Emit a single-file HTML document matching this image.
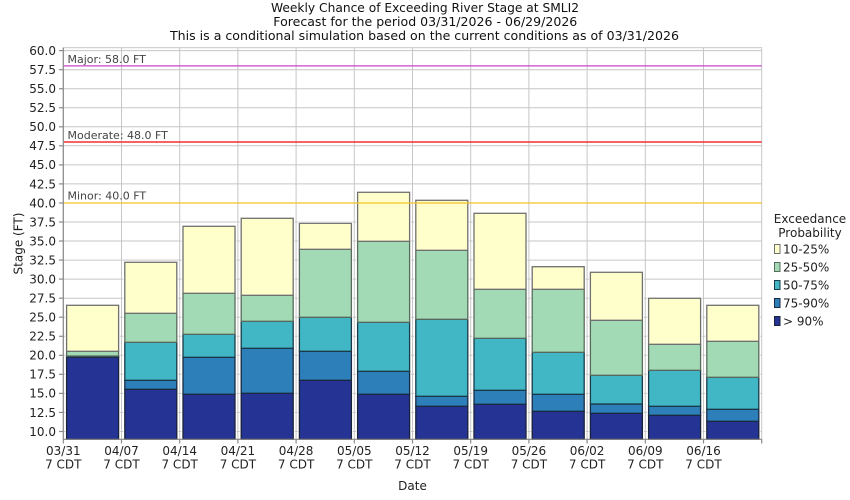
<!DOCTYPE html>
<html><head><meta charset="utf-8"><style>
html,body{margin:0;padding:0;background:#fff;}
svg{display:block;font-family:"DejaVu Sans","Liberation Sans",sans-serif;}
</style></head><body>
<svg width="850" height="500" viewBox="0 0 850 500" xmlns="http://www.w3.org/2000/svg">
<rect width="850" height="500" fill="#fff"/>
<!-- Title -->
<g fill="#111" font-size="12" text-anchor="middle">
<text x="425" y="12" textLength="308" lengthAdjust="spacingAndGlyphs">Weekly Chance of Exceeding River Stage at SMLI2</text>
<text x="425.3" y="26" textLength="304" lengthAdjust="spacingAndGlyphs">Forecast for the period 03/31/2026 - 06/29/2026</text>
<text x="424.5" y="40" textLength="509" lengthAdjust="spacingAndGlyphs">This is a conditional simulation based on the current conditions as of 03/31/2026</text>
</g>
<!-- Grid -->
<g stroke="#c6c6c6" stroke-width="1">
<line x1="63.3" x2="761.7" y1="431.5" y2="431.5"/>
<line x1="63.3" x2="761.7" y1="412.4" y2="412.4"/>
<line x1="63.3" x2="761.7" y1="393.4" y2="393.4"/>
<line x1="63.3" x2="761.7" y1="374.3" y2="374.3"/>
<line x1="63.3" x2="761.7" y1="355.3" y2="355.3"/>
<line x1="63.3" x2="761.7" y1="336.3" y2="336.3"/>
<line x1="63.3" x2="761.7" y1="317.2" y2="317.2"/>
<line x1="63.3" x2="761.7" y1="298.2" y2="298.2"/>
<line x1="63.3" x2="761.7" y1="279.1" y2="279.1"/>
<line x1="63.3" x2="761.7" y1="260.1" y2="260.1"/>
<line x1="63.3" x2="761.7" y1="241.0" y2="241.0"/>
<line x1="63.3" x2="761.7" y1="222.0" y2="222.0"/>
<line x1="63.3" x2="761.7" y1="203.0" y2="203.0"/>
<line x1="63.3" x2="761.7" y1="183.9" y2="183.9"/>
<line x1="63.3" x2="761.7" y1="164.9" y2="164.9"/>
<line x1="63.3" x2="761.7" y1="145.8" y2="145.8"/>
<line x1="63.3" x2="761.7" y1="126.8" y2="126.8"/>
<line x1="63.3" x2="761.7" y1="107.7" y2="107.7"/>
<line x1="63.3" x2="761.7" y1="88.7" y2="88.7"/>
<line x1="63.3" x2="761.7" y1="69.7" y2="69.7"/>
<line x1="63.3" x2="761.7" y1="50.6" y2="50.6"/>
<line y1="47.7" y2="439.3" x1="121.5" x2="121.5"/>
<line y1="47.7" y2="439.3" x1="179.7" x2="179.7"/>
<line y1="47.7" y2="439.3" x1="237.9" x2="237.9"/>
<line y1="47.7" y2="439.3" x1="296.1" x2="296.1"/>
<line y1="47.7" y2="439.3" x1="354.3" x2="354.3"/>
<line y1="47.7" y2="439.3" x1="412.5" x2="412.5"/>
<line y1="47.7" y2="439.3" x1="470.7" x2="470.7"/>
<line y1="47.7" y2="439.3" x1="528.9" x2="528.9"/>
<line y1="47.7" y2="439.3" x1="587.1" x2="587.1"/>
<line y1="47.7" y2="439.3" x1="645.3" x2="645.3"/>
<line y1="47.7" y2="439.3" x1="703.5" x2="703.5"/>
<rect x="63.3" y="47.7" width="698.4" height="391.6" fill="none"/>
</g>
<!-- white halos -->
<g fill="#fff">
<rect x="65.1" y="303.8" width="55" height="136"/>
<rect x="123.3" y="260.8" width="55" height="179"/>
<rect x="181.5" y="224.8" width="55" height="215"/>
<rect x="239.7" y="216.8" width="55" height="223"/>
<rect x="297.9" y="221.8" width="55" height="218"/>
<rect x="356.1" y="190.8" width="55" height="249"/>
<rect x="414.3" y="198.8" width="55" height="241"/>
<rect x="472.5" y="211.8" width="55" height="228"/>
<rect x="530.7" y="265.2" width="55" height="175"/>
<rect x="588.9" y="270.8" width="55" height="169"/>
<rect x="647.1" y="296.8" width="55" height="143"/>
<rect x="705.3" y="303.8" width="55" height="136"/>
</g>
<!-- Bars -->
<g stroke-width="1.3">
<!-- 1 -->
<g transform="translate(66.6,0)">
<rect width="52" y="357.3" height="82" fill="#253494" stroke="#1a2238"/>
<rect width="52" y="356.7" height="0.6" fill="#2c7fb8" stroke="#1a2a40"/>
<rect width="52" y="356.0" height="0.7" fill="#41b6c4" stroke="#1a3a48"/>
<rect width="52" y="351.3" height="4.7" fill="#a1dab4" stroke="#5a6a5e"/>
<rect width="52" y="305.3" height="46" fill="#ffffcc" stroke="#707070"/>
</g>
<!-- 2 -->
<g transform="translate(124.8,0)">
<rect width="52" y="389.3" height="50" fill="#253494" stroke="#1a2238"/>
<rect width="52" y="380.3" height="9" fill="#2c7fb8" stroke="#1a2a40"/>
<rect width="52" y="342.3" height="38" fill="#41b6c4" stroke="#1a3a48"/>
<rect width="52" y="313.3" height="29" fill="#a1dab4" stroke="#5a6a5e"/>
<rect width="52" y="262.3" height="51" fill="#ffffcc" stroke="#707070"/>
</g>
<!-- 3 -->
<g transform="translate(183.0,0)">
<rect width="52" y="394.3" height="45" fill="#253494" stroke="#1a2238"/>
<rect width="52" y="357.3" height="37" fill="#2c7fb8" stroke="#1a2a40"/>
<rect width="52" y="334.3" height="23" fill="#41b6c4" stroke="#1a3a48"/>
<rect width="52" y="293.3" height="41" fill="#a1dab4" stroke="#5a6a5e"/>
<rect width="52" y="226.3" height="67" fill="#ffffcc" stroke="#707070"/>
</g>
<!-- 4 -->
<g transform="translate(241.2,0)">
<rect width="52" y="393.3" height="46" fill="#253494" stroke="#1a2238"/>
<rect width="52" y="348.3" height="45" fill="#2c7fb8" stroke="#1a2a40"/>
<rect width="52" y="321.3" height="27" fill="#41b6c4" stroke="#1a3a48"/>
<rect width="52" y="295.3" height="26" fill="#a1dab4" stroke="#5a6a5e"/>
<rect width="52" y="218.3" height="77" fill="#ffffcc" stroke="#707070"/>
</g>
<!-- 5 -->
<g transform="translate(299.4,0)">
<rect width="52" y="380.3" height="59" fill="#253494" stroke="#1a2238"/>
<rect width="52" y="351.3" height="29" fill="#2c7fb8" stroke="#1a2a40"/>
<rect width="52" y="317.3" height="34" fill="#41b6c4" stroke="#1a3a48"/>
<rect width="52" y="249.3" height="68" fill="#a1dab4" stroke="#5a6a5e"/>
<rect width="52" y="223.3" height="26" fill="#ffffcc" stroke="#707070"/>
</g>
<!-- 6 -->
<g transform="translate(357.6,0)">
<rect width="52" y="394.3" height="45" fill="#253494" stroke="#1a2238"/>
<rect width="52" y="371.3" height="23" fill="#2c7fb8" stroke="#1a2a40"/>
<rect width="52" y="322.3" height="49" fill="#41b6c4" stroke="#1a3a48"/>
<rect width="52" y="241.3" height="81" fill="#a1dab4" stroke="#5a6a5e"/>
<rect width="52" y="192.3" height="49" fill="#ffffcc" stroke="#707070"/>
</g>
<!-- 7 -->
<g transform="translate(415.8,0)">
<rect width="52" y="406.3" height="33" fill="#253494" stroke="#1a2238"/>
<rect width="52" y="396.3" height="10" fill="#2c7fb8" stroke="#1a2a40"/>
<rect width="52" y="319.3" height="77" fill="#41b6c4" stroke="#1a3a48"/>
<rect width="52" y="250.3" height="69" fill="#a1dab4" stroke="#5a6a5e"/>
<rect width="52" y="200.3" height="50" fill="#ffffcc" stroke="#707070"/>
</g>
<!-- 8 -->
<g transform="translate(474.0,0)">
<rect width="52" y="404.3" height="35" fill="#253494" stroke="#1a2238"/>
<rect width="52" y="390.3" height="14" fill="#2c7fb8" stroke="#1a2a40"/>
<rect width="52" y="338.3" height="52" fill="#41b6c4" stroke="#1a3a48"/>
<rect width="52" y="289.3" height="49" fill="#a1dab4" stroke="#5a6a5e"/>
<rect width="52" y="213.3" height="76" fill="#ffffcc" stroke="#707070"/>
</g>
<!-- 9 -->
<g transform="translate(532.2,0)">
<rect width="52" y="411.3" height="28" fill="#253494" stroke="#1a2238"/>
<rect width="52" y="394.3" height="17" fill="#2c7fb8" stroke="#1a2a40"/>
<rect width="52" y="352.3" height="42" fill="#41b6c4" stroke="#1a3a48"/>
<rect width="52" y="289.3" height="63" fill="#a1dab4" stroke="#5a6a5e"/>
<rect width="52" y="266.7" height="22.6" fill="#ffffcc" stroke="#707070"/>
</g>
<!-- 10 -->
<g transform="translate(590.4,0)">
<rect width="52" y="413.3" height="26" fill="#253494" stroke="#1a2238"/>
<rect width="52" y="404.0" height="9.3" fill="#2c7fb8" stroke="#1a2a40"/>
<rect width="52" y="375.3" height="28.7" fill="#41b6c4" stroke="#1a3a48"/>
<rect width="52" y="320.3" height="55" fill="#a1dab4" stroke="#5a6a5e"/>
<rect width="52" y="272.3" height="48" fill="#ffffcc" stroke="#707070"/>
</g>
<!-- 11 -->
<g transform="translate(648.6,0)">
<rect width="52" y="415.3" height="24" fill="#253494" stroke="#1a2238"/>
<rect width="52" y="406.3" height="9" fill="#2c7fb8" stroke="#1a2a40"/>
<rect width="52" y="370.3" height="36" fill="#41b6c4" stroke="#1a3a48"/>
<rect width="52" y="344.3" height="26" fill="#a1dab4" stroke="#5a6a5e"/>
<rect width="52" y="298.3" height="46" fill="#ffffcc" stroke="#707070"/>
</g>
<!-- 12 -->
<g transform="translate(706.8,0)">
<rect width="52" y="421.3" height="18" fill="#253494" stroke="#1a2238"/>
<rect width="52" y="409.3" height="12" fill="#2c7fb8" stroke="#1a2a40"/>
<rect width="52" y="377.3" height="32" fill="#41b6c4" stroke="#1a3a48"/>
<rect width="52" y="341.3" height="36" fill="#a1dab4" stroke="#5a6a5e"/>
<rect width="52" y="305.3" height="36" fill="#ffffcc" stroke="#707070"/>
</g>
</g>
<!-- Threshold lines -->
<line x1="63.3" x2="761.7" y1="65.9" y2="65.9" stroke="#cc44cc" stroke-width="1.2"/>
<line x1="63.3" x2="761.7" y1="142.0" y2="142.0" stroke="#f03030" stroke-width="1.4"/>
<line x1="63.3" x2="761.7" y1="203.0" y2="203.0" stroke="#f2c423" stroke-width="1.3"/>
<g font-size="11" fill="#444">
<text x="67.5" y="63">Major: 58.0 FT</text>
<text x="67.5" y="139">Moderate: 48.0 FT</text>
<text x="67.5" y="199.5">Minor: 40.0 FT</text>
</g>
<!-- Axes -->
<g stroke="#8a8a8a" stroke-width="1.2">
<line x1="63.3" x2="63.3" y1="47.7" y2="439.3"/>
<line x1="63.3" x2="761.7" y1="439.3" y2="439.3"/>
<line x1="59" x2="63.3" y1="431.5" y2="431.5"/>
<line x1="59" x2="63.3" y1="412.4" y2="412.4"/>
<line x1="59" x2="63.3" y1="393.4" y2="393.4"/>
<line x1="59" x2="63.3" y1="374.3" y2="374.3"/>
<line x1="59" x2="63.3" y1="355.3" y2="355.3"/>
<line x1="59" x2="63.3" y1="336.3" y2="336.3"/>
<line x1="59" x2="63.3" y1="317.2" y2="317.2"/>
<line x1="59" x2="63.3" y1="298.2" y2="298.2"/>
<line x1="59" x2="63.3" y1="279.1" y2="279.1"/>
<line x1="59" x2="63.3" y1="260.1" y2="260.1"/>
<line x1="59" x2="63.3" y1="241.0" y2="241.0"/>
<line x1="59" x2="63.3" y1="222.0" y2="222.0"/>
<line x1="59" x2="63.3" y1="203.0" y2="203.0"/>
<line x1="59" x2="63.3" y1="183.9" y2="183.9"/>
<line x1="59" x2="63.3" y1="164.9" y2="164.9"/>
<line x1="59" x2="63.3" y1="145.8" y2="145.8"/>
<line x1="59" x2="63.3" y1="126.8" y2="126.8"/>
<line x1="59" x2="63.3" y1="107.7" y2="107.7"/>
<line x1="59" x2="63.3" y1="88.7" y2="88.7"/>
<line x1="59" x2="63.3" y1="69.7" y2="69.7"/>
<line x1="59" x2="63.3" y1="50.6" y2="50.6"/>
<line y1="439.3" y2="443.5" x1="63.3" x2="63.3"/>
<line y1="439.3" y2="443.5" x1="121.5" x2="121.5"/>
<line y1="439.3" y2="443.5" x1="179.7" x2="179.7"/>
<line y1="439.3" y2="443.5" x1="237.9" x2="237.9"/>
<line y1="439.3" y2="443.5" x1="296.1" x2="296.1"/>
<line y1="439.3" y2="443.5" x1="354.3" x2="354.3"/>
<line y1="439.3" y2="443.5" x1="412.5" x2="412.5"/>
<line y1="439.3" y2="443.5" x1="470.7" x2="470.7"/>
<line y1="439.3" y2="443.5" x1="528.9" x2="528.9"/>
<line y1="439.3" y2="443.5" x1="587.1" x2="587.1"/>
<line y1="439.3" y2="443.5" x1="645.3" x2="645.3"/>
<line y1="439.3" y2="443.5" x1="703.5" x2="703.5"/>
<line y1="439.3" y2="443.5" x1="761.7" x2="761.7"/>
</g>
<!-- Y tick labels -->
<g font-size="12" fill="#222" text-anchor="end">
<text x="56" y="435.8">10.0</text>
<text x="56" y="416.8">12.5</text>
<text x="56" y="397.7">15.0</text>
<text x="56" y="378.7">17.5</text>
<text x="56" y="359.7">20.0</text>
<text x="56" y="340.6">22.5</text>
<text x="56" y="321.6">25.0</text>
<text x="56" y="302.5">27.5</text>
<text x="56" y="283.5">30.0</text>
<text x="56" y="264.4">32.5</text>
<text x="56" y="245.4">35.0</text>
<text x="56" y="226.4">37.5</text>
<text x="56" y="207.3">40.0</text>
<text x="56" y="188.3">42.5</text>
<text x="56" y="169.2">45.0</text>
<text x="56" y="150.2">47.5</text>
<text x="56" y="131.1">50.0</text>
<text x="56" y="112.1">52.5</text>
<text x="56" y="93.1">55.0</text>
<text x="56" y="74.0">57.5</text>
<text x="56" y="55.0">60.0</text>
</g>
<!-- X tick labels -->
<g font-size="12" fill="#222" text-anchor="middle">
<text x="63.3" y="455">03/31</text><text x="63.3" y="468.3">7 CDT</text>
<text x="121.5" y="455">04/07</text><text x="121.5" y="468.3">7 CDT</text>
<text x="179.7" y="455">04/14</text><text x="179.7" y="468.3">7 CDT</text>
<text x="237.9" y="455">04/21</text><text x="237.9" y="468.3">7 CDT</text>
<text x="296.1" y="455">04/28</text><text x="296.1" y="468.3">7 CDT</text>
<text x="354.3" y="455">05/05</text><text x="354.3" y="468.3">7 CDT</text>
<text x="412.5" y="455">05/12</text><text x="412.5" y="468.3">7 CDT</text>
<text x="470.7" y="455">05/19</text><text x="470.7" y="468.3">7 CDT</text>
<text x="528.9" y="455">05/26</text><text x="528.9" y="468.3">7 CDT</text>
<text x="587.1" y="455">06/02</text><text x="587.1" y="468.3">7 CDT</text>
<text x="645.3" y="455">06/09</text><text x="645.3" y="468.3">7 CDT</text>
<text x="703.5" y="455">06/16</text><text x="703.5" y="468.3">7 CDT</text>
</g>
<!-- Axis titles -->
<text x="412.5" y="490" font-size="12" fill="#222" text-anchor="middle">Date</text>
<text transform="translate(22.5,243.5) rotate(-90)" font-size="12" fill="#222" text-anchor="middle">Stage (FT)</text>
<!-- Legend -->
<g font-size="12" fill="#222">
<text x="810" y="223" text-anchor="middle">Exceedance</text>
<text x="810" y="237" text-anchor="middle">Probability</text>
<rect x="774.5" y="244.5" width="5.5" height="9" fill="#ffffcc" stroke="#707070" stroke-width="1"/>
<text x="783" y="253.4">10-25%</text>
<rect x="774.5" y="262.5" width="5.5" height="9" fill="#a1dab4" stroke="#5a6a5e" stroke-width="1"/>
<text x="783" y="271.4">25-50%</text>
<rect x="774.5" y="280.5" width="5.5" height="9" fill="#41b6c4" stroke="#1a3a48" stroke-width="1"/>
<text x="783" y="289.4">50-75%</text>
<rect x="774.5" y="298.5" width="5.5" height="9" fill="#2c7fb8" stroke="#1a2a40" stroke-width="1"/>
<text x="783" y="307.4">75-90%</text>
<rect x="774.5" y="316.5" width="5.5" height="9" fill="#253494" stroke="#1a2238" stroke-width="1"/>
<text x="783" y="325.4">&gt; 90%</text>
</g>
</svg>
</body></html>
